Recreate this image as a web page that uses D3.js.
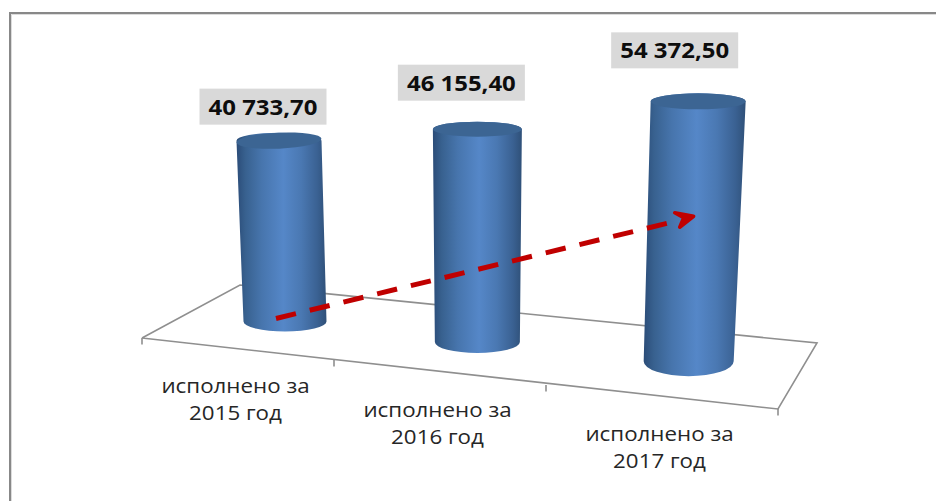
<!DOCTYPE html>
<html>
<head>
<meta charset="utf-8">
<script src="https://cdn.jsdelivr.net/npm/d3@7"></script>
<style>
  html, body { margin: 0; padding: 0; background: #fff; }
  svg { display: block; }
  text { font-family: "Open Sans", sans-serif; }
</style>
</head>
<body>
<svg id="chart" width="936" height="501"></svg>
<script>
const categories = ['исполнено за 2015 год', 'исполнено за 2016 год', 'исполнено за 2017 год'];
const values = [40733.70, 46155.40, 54372.50];

const svg = d3.select('#chart');
const width = 936;
const height = 501;
const indexes = [0, 1, 2];
const edges = [0, 1, 2, 3];

const formatValue = d3.formatLocale({ decimal: ',', thousands: ' ', grouping: [3] }).format(',.2f');

// the floor of the 3d chart: front and back edge, one stop per category boundary
const frontX = d3.scaleLinear().domain(edges).range([142, 334, 546, 778]);
const frontY = d3.scaleLinear().domain(edges).range([338, 360, 385, 409]);
const backX = d3.scaleLinear().domain(edges).range([240, 424, 604, 817]);
const backY = d3.scaleLinear().domain(edges).range([285, 303, 321, 343]);

// things closer to the viewer get bigger, so these all depend on the category
const depth = d3.scaleLinear().domain([0, 1, 2]).range([0.5, 0.505, 0.55]);
const pxPerUnit = d3.scaleLinear().domain([0, 2]).range([0.00444, 0.00478]);
const lean = d3.scaleLinear().domain([0, 1, 2]).range([-6, 0, 9.5]);
const rxBase = d3.scaleLinear().domain([0, 1, 2]).range([41.5, 42.5, 45]);
const rxTop = d3.scaleLinear().domain([0, 1, 2]).range([42.5, 44.5, 47.5]);
const ryBase = d3.scaleLinear().domain([0, 1, 2]).range([10, 11, 15]);
const ryTop = d3.scaleLinear().domain([0, 1, 2]).range([8, 7.5, 8]);
const tilt = d3.scaleLinear().domain([0, 1, 2]).range([-2.5, 0, 0]);
const labelDx = d3.scaleLinear().domain([0, 1, 2]).range([-16, -16, -23.5]);
const labelGap = d3.scaleLinear().domain([0, 1, 2]).range([8, 21, 25]);

const bars = indexes.map(i => {
  const baseX = d3.interpolate(frontX(i + 0.5), backX(i + 0.5))(depth(i));
  const baseY = d3.interpolate(frontY(i + 0.5), backY(i + 0.5))(depth(i));
  const topX = baseX + lean(i);
  const topY = baseY - values[i] * pxPerUnit(i);
  return { i, value: values[i], baseX, baseY, topX, topY };
});

// window frame, only top and left are visible
const frame = svg.append('g');
frame.append('path')
  .attr('d', `M11.5,${height}V14.5H${width}`)
  .attr('fill', 'none')
  .attr('stroke', '#dcdcdc')
  .attr('stroke-width', 1);
frame.append('path')
  .attr('d', `M10,${height}V13H${width}`)
  .attr('fill', 'none')
  .attr('stroke', '#888')
  .attr('stroke-width', 2);

const gradient = svg.append('defs').append('linearGradient')
  .attr('id', 'barFill');
[
  [0, '#2b4c78'], [0.1, '#38618f'], [0.28, '#4775ad'], [0.52, '#5587c8'],
  [0.72, '#4a78b2'], [0.9, '#3a6192'], [1, '#2f5078']
].forEach(([offset, color]) => {
  gradient.append('stop').attr('offset', offset).attr('stop-color', color);
});

// floor
const floor = svg.append('g')
  .attr('fill', 'none')
  .attr('stroke', '#8f8f8f')
  .attr('stroke-width', 1.6);
floor.append('path')
  .attr('d', d3.line()([
    [frontX(0), frontY(0)], [backX(0), backY(0)], [backX(3), backY(3)],
    [frontX(3), frontY(3)], [frontX(0), frontY(0)]
  ]));
floor.selectAll('.tick')
  .data(edges)
  .join('line')
  .attr('class', 'tick')
  .attr('x1', frontX)
  .attr('x2', frontX)
  .attr('y1', frontY)
  .attr('y2', d => frontY(d) + 6.5);

// cylinders
const bar = svg.selectAll('.bar')
  .data(bars)
  .join('g')
  .attr('class', 'bar');

bar.append('path')
  .attr('fill', 'url(#barFill)')
  .attr('d', d => {
    const bx = rxBase(d.i);
    const by = ryBase(d.i);
    const tx = rxTop(d.i);
    const ty = ryTop(d.i);
    return `M${d.topX - tx},${d.topY}L${d.baseX - bx},${d.baseY}`
      + `A${bx},${by} 0 0 0 ${d.baseX + bx},${d.baseY}`
      + `L${d.topX + tx},${d.topY}`
      + `A${tx},${ty} 0 0 0 ${d.topX - tx},${d.topY}Z`;
  });

bar.append('ellipse')
  .attr('fill', '#3c6593')
  .attr('cx', d => d.topX)
  .attr('cy', d => d.topY)
  .attr('rx', d => rxTop(d.i))
  .attr('ry', d => ryTop(d.i))
  .attr('transform', d => `rotate(${tilt(d.i)} ${d.topX} ${d.topY})`);

// trend arrow goes over the cylinders
const arrowStart = [bars[0].baseX - 9, bars[0].baseY - 3];
const arrowEnd = [bars[2].baseX + 7, bars[2].baseY - 145];
const arrow = svg.append('g')
  .attr('fill', 'none')
  .attr('stroke', '#c00000')
  .attr('stroke-width', 5);
arrow.append('line')
  .attr('x1', arrowStart[0])
  .attr('y1', arrowStart[1])
  .attr('x2', arrowEnd[0] - 16)
  .attr('y2', arrowEnd[1] + 4)
  .attr('stroke-dasharray', '20.5 14.2');
arrow.append('path')
  .attr('fill', '#c00000')
  .attr('stroke-width', 3.5)
  .attr('stroke-linejoin', 'round')
  .attr('d', d3.line()([
    [arrowEnd[0] - 21, arrowEnd[1] - 3.5],
    [arrowEnd[0] - 2, arrowEnd[1]],
    [arrowEnd[0] - 16, arrowEnd[1] + 11],
    [arrowEnd[0] - 12, arrowEnd[1] + 1.5]
  ]) + 'Z');

// value labels
const label = svg.selectAll('.value-label')
  .data(bars)
  .join('g')
  .attr('class', 'value-label')
  .attr('transform', d => {
    const bottom = d.topY - ryTop(d.i) - labelGap(d.i);
    return `translate(${d.topX + labelDx(d.i)},${bottom - 18})`;
  });

label.append('rect')
  .attr('x', -63.5)
  .attr('y', -18)
  .attr('width', 127)
  .attr('height', 36)
  .attr('fill', '#d9d9d9');

label.append('text')
  .attr('text-anchor', 'middle')
  .attr('transform', 'translate(0,8) scale(1.14,1)')
  .attr('font-size', 21)
  .attr('font-weight', 700)
  .attr('fill', '#0d0d0d')
  .text(d => formatValue(d.value));

// category labels, wrapped after "за" like in excel
const categoryLabel = svg.selectAll('.category-label')
  .data(categories)
  .join('text')
  .attr('class', 'category-label')
  .attr('text-anchor', 'middle')
  .attr('font-size', 20.5)
  .attr('fill', '#262626')
  .attr('transform', (d, i) => `translate(${frontX(i + 0.5) - 2.5},${frontY(i + 0.5) + 44}) scale(1.09,1)`);

categoryLabel.selectAll('tspan')
  .data(d => [d.slice(0, d.lastIndexOf('за') + 2), d.slice(d.lastIndexOf('за') + 3)])
  .join('tspan')
  .attr('x', 0)
  .attr('dy', (d, i) => i * 27.5)
  .text(d => d);
</script>
</body>
</html>
